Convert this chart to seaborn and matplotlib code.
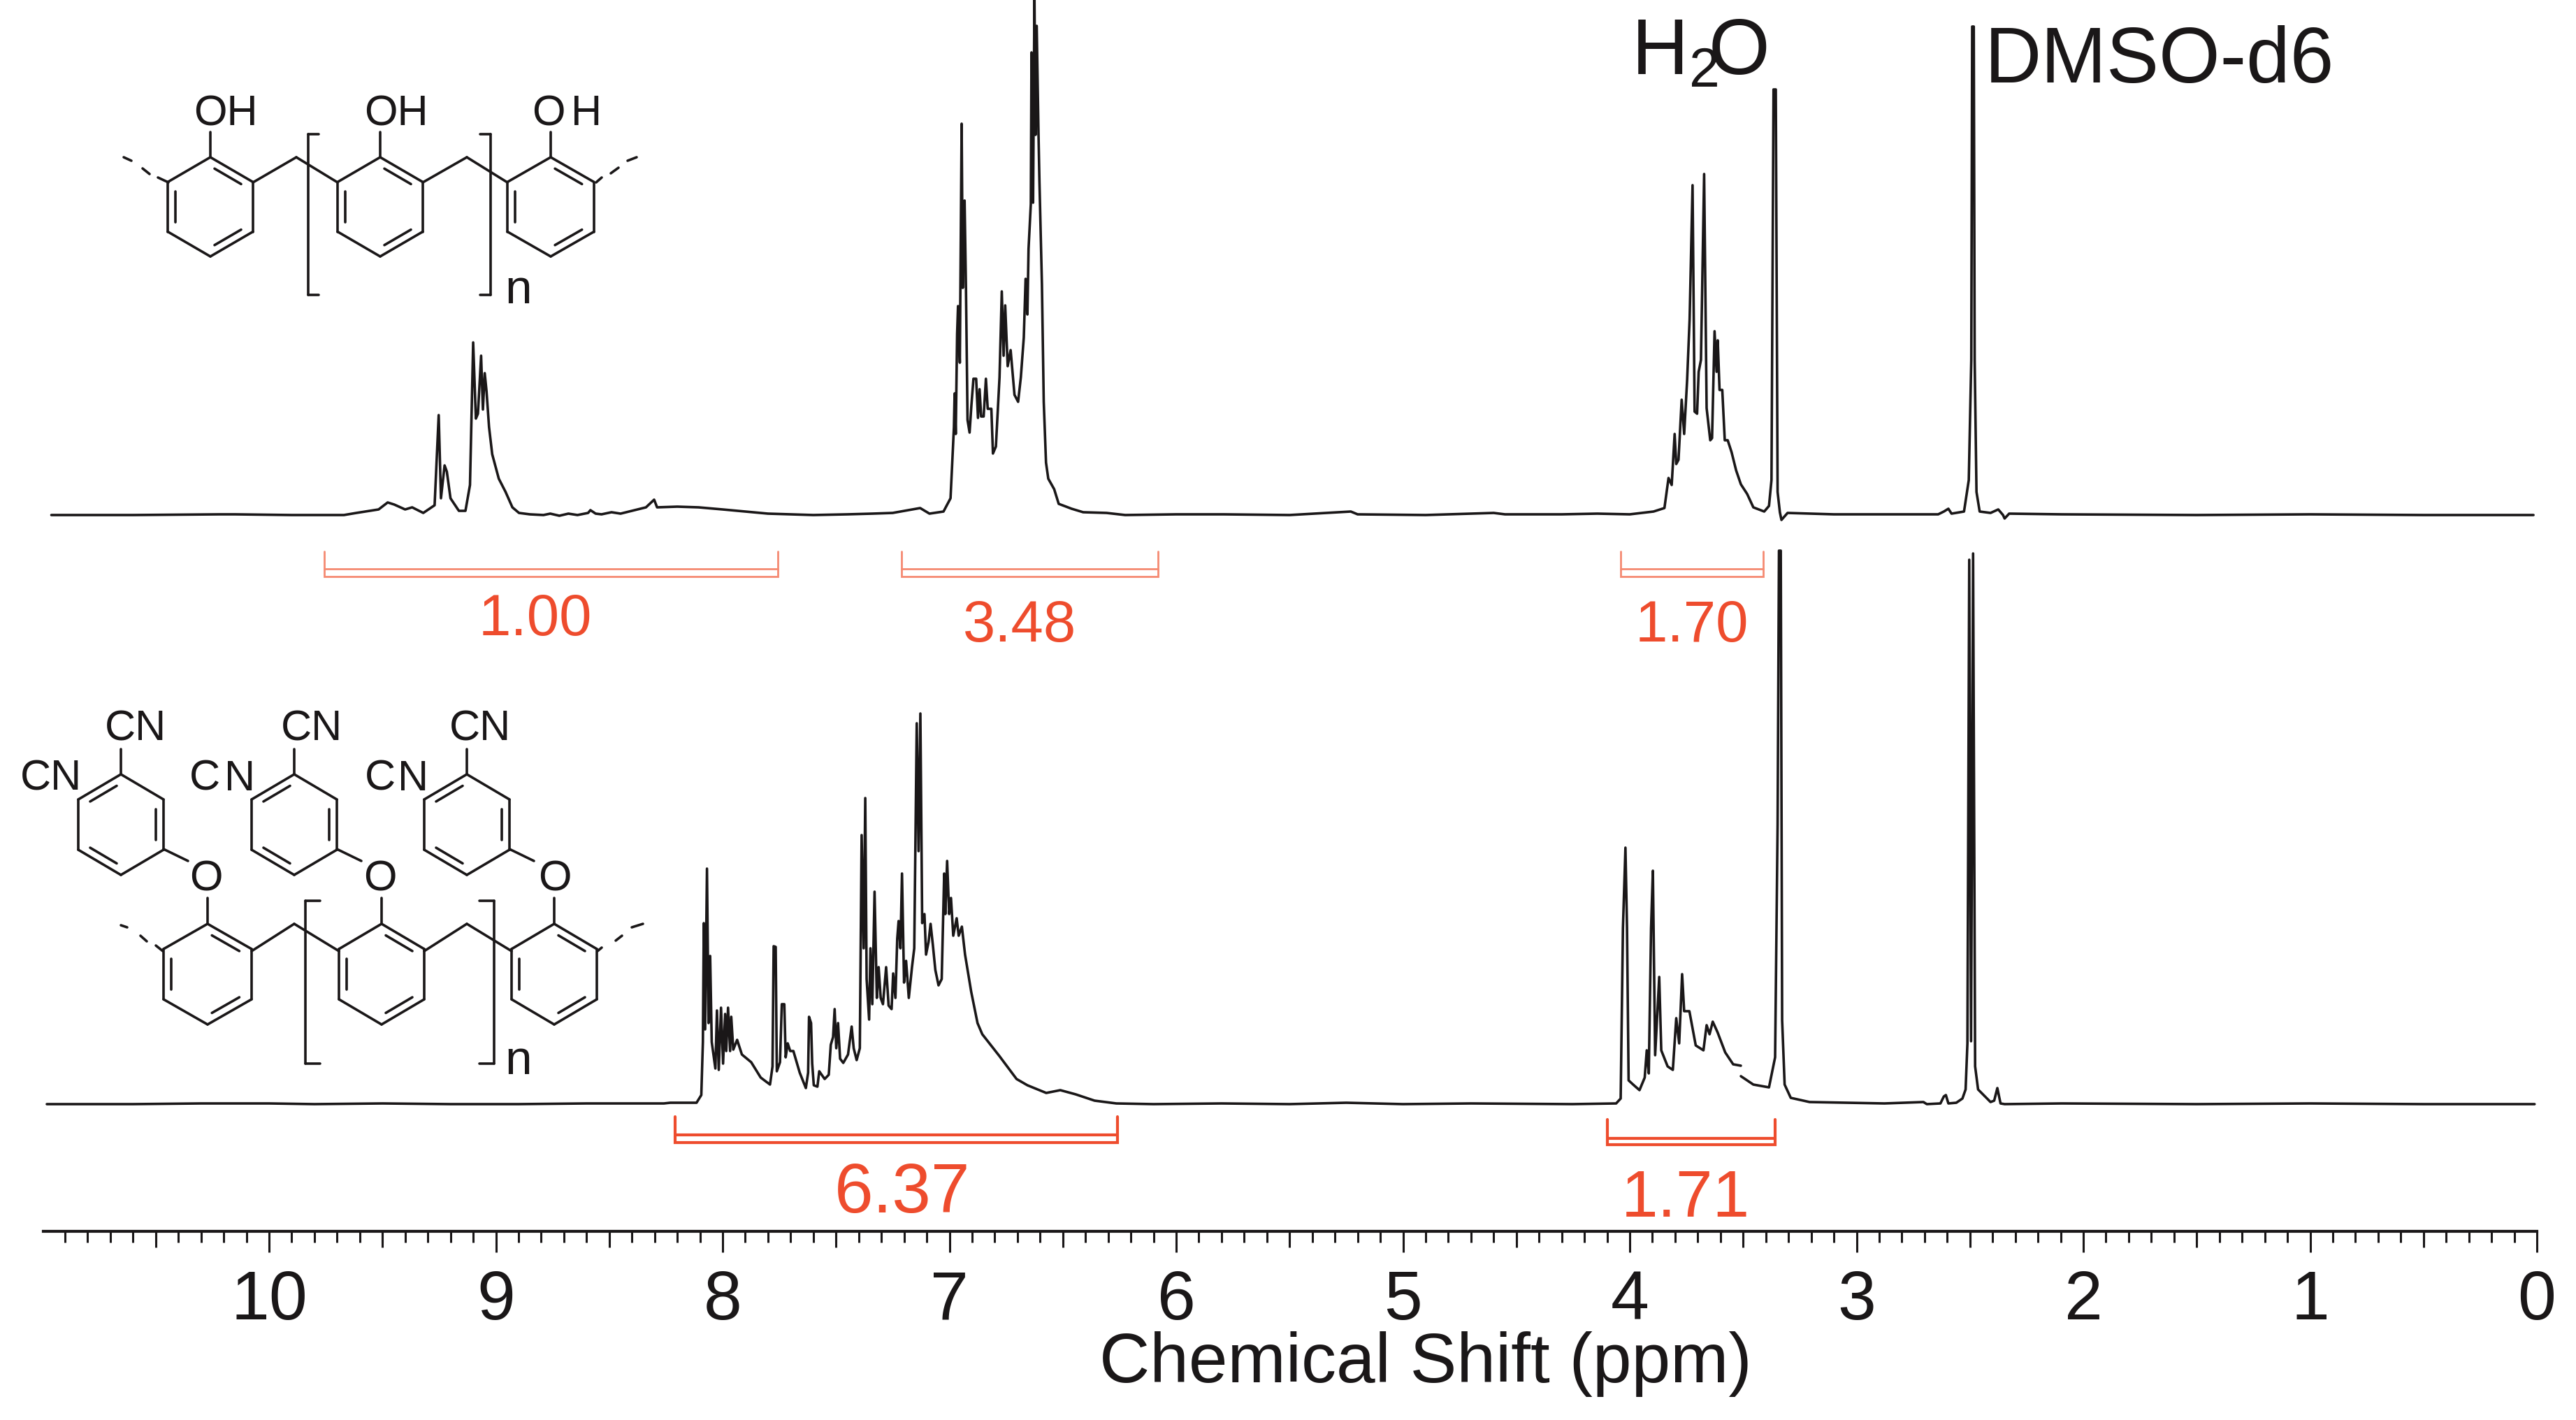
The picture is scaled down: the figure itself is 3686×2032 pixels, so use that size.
#%%
# =====================================================
# 1H NMR OF NOVOLAC AND PHTHALONITRILE RESIN (DMSO-d6)
# =====================================================

import pandas as pd
import matplotlib
matplotlib.use('Agg')
import matplotlib.pyplot as plt
from matplotlib.ticker import MultipleLocator
import seaborn as sns

sns.set_theme(style='ticks')
plt.rcParams['font.family'] = ['Liberation Sans', 'DejaVu Sans']
plt.rcParams['mathtext.fontset'] = 'custom'
plt.rcParams['mathtext.rm'] = 'Liberation Sans'
plt.rcParams['mathtext.default'] = 'rm'

# =====================================================
# DATA
# =====================================================
# upper spectrum, intensity is height above its own baseline
top_ppm = [
    10.96, 10.6, 10.22, 10.15, 9.9, 9.67, 9.615, 9.517, 9.477, 9.448, 9.40, 9.369, 9.32, 9.27,
    9.252, 9.242, 9.226, 9.216, 9.20, 9.163, 9.134, 9.114, 9.10, 9.088, 9.079, 9.065, 9.057,
    9.049, 9.041, 9.03, 9.016, 8.987, 8.957, 8.927, 8.898, 8.85, 8.79, 8.76, 8.72, 8.68, 8.64,
    8.593, 8.583, 8.56, 8.534, 8.49, 8.45, 8.40, 8.338, 8.302, 8.289, 8.2, 8.106, 8.0, 7.9, 7.8,
    7.7, 7.6, 7.45, 7.34, 7.25,
    7.129, 7.088, 7.026, 6.995, 6.98, 6.977, 6.972, 6.966, 6.962, 6.954, 6.946, 6.941, 6.933,
    6.927, 6.92, 6.911, 6.903, 6.894, 6.882, 6.874, 6.867, 6.86, 6.849, 6.839, 6.831, 6.815,
    6.808, 6.795, 6.779, 6.769, 6.761, 6.754, 6.743, 6.73, 6.713, 6.697, 6.685, 6.672, 6.664,
    6.656, 6.651, 6.641, 6.638, 6.631, 6.625, 6.62, 6.615, 6.607, 6.603, 6.592, 6.584, 6.574,
    6.564, 6.538, 6.518, 6.461, 6.41, 6.307, 6.225, 6.0, 5.79, 5.5, 5.23, 5.2, 4.9, 4.6, 4.55, 4.3,
    4.143, 4.0, 3.895, 3.847, 3.829, 3.815, 3.802, 3.795, 3.785, 3.771, 3.76, 3.747, 3.736,
    3.723, 3.714, 3.703, 3.696, 3.686, 3.672, 3.661, 3.645, 3.637, 3.626, 3.617, 3.612, 3.604,
    3.592, 3.581, 3.568, 3.551, 3.531, 3.51, 3.482, 3.455, 3.407, 3.386, 3.375, 3.366, 3.356,
    3.348, 3.338, 3.331, 3.304, 3.1, 2.877, 2.7, 2.64, 2.615, 2.595, 2.581, 2.526, 2.505, 2.494, 2.49,
    2.483, 2.479, 2.471, 2.457, 2.409, 2.375, 2.354, 2.347, 2.327, 2.095, 1.5, 1.0, 0.5, 0.015,
]
top_intensity = [
    0, 0, 1, 1, 0, 0, 3, 8, 18, 15, 8, 11, 3, 14,
    143, 24, 71, 62, 24, 6, 6, 43, 247, 138, 145, 228, 151,
    203, 177, 126, 87, 52, 33, 11, 3, 1, 0, 2, -1, 2, 0,
    3, 7, 2, 1, 4, 2, 6, 11, 22, 11, 12, 11, 8, 5, 2,
    1, 0, 1, 2, 3,
    10, 2, 5, 24, 126, 174, 116, 259, 299, 218, 560, 325, 450,
    325, 136, 118, 157, 195, 195, 139, 180, 141, 141, 195, 152, 152,
    88, 98, 197, 320, 228, 300, 213, 236, 172, 162, 197, 254, 338,
    287, 381, 445, 662, 447, 745, 544, 700, 544, 478, 330, 162, 75,
    52, 37, 16, 9, 4, 3, 0, 1, 1, 0, 5, 1, 0, 3, 1, 1,
    2, 1, 5, 10, 53, 43, 116, 73, 79, 165, 116, 193, 280,
    472, 148, 145, 205, 222, 488, 153, 107, 110, 263, 205, 250, 179,
    179, 107, 107, 90, 64, 44, 30, 11, 5, 13, 50, 609, 609,
    33, 4, -7, 3, 1, 1, 1, 1, 5, 9, 2, 5, 50, 222, 699,
    699, 222, 33, 5, 3, 8, 0, -5, 2, 1, 0, 1, 0, 0,
]

# lower spectrum, the trace has a small break near 3.5 ppm
bottom_ppm_a = [
    10.98, 10.6, 10.3, 10.0, 9.8, 9.5, 9.2, 8.9, 8.6, 8.4, 8.259, 8.231, 8.115, 8.094, 8.087,
    8.083, 8.077, 8.069, 8.062, 8.055, 8.048, 8.032, 8.025, 8.017, 8.007, 7.998, 7.989, 7.984,
    7.976, 7.967, 7.962, 7.953, 7.936, 7.915, 7.874, 7.832, 7.791, 7.78, 7.775, 7.766, 7.761,
    7.747, 7.739, 7.728, 7.722, 7.713, 7.702, 7.688, 7.66, 7.633, 7.623, 7.619, 7.61, 7.605,
    7.598, 7.582, 7.574, 7.55, 7.532, 7.523, 7.513, 7.506, 7.499, 7.491, 7.482, 7.468, 7.447,
    7.431, 7.422, 7.409, 7.395, 7.387, 7.378, 7.371, 7.365, 7.354, 7.348, 7.34, 7.33, 7.32,
    7.312, 7.303, 7.293, 7.279, 7.268, 7.255, 7.248, 7.238, 7.23, 7.224, 7.216, 7.209, 7.2,
    7.191, 7.179, 7.165, 7.155, 7.144, 7.136, 7.128, 7.12, 7.11, 7.103, 7.092, 7.083, 7.073,
    7.062, 7.048, 7.034, 7.023, 7.018, 7.01, 7.001, 6.993, 6.983, 6.968, 6.959, 6.945, 6.931,
    6.904, 6.876, 6.855, 6.78, 6.704, 6.656, 6.573, 6.511, 6.443, 6.36, 6.264, 6.1, 5.8, 5.5,
    5.25, 5.0, 4.7, 4.253, 4.06, 4.04, 4.03, 4.019, 4.012, 4.005, 3.985, 3.957, 3.934, 3.925,
    3.916, 3.906, 3.898, 3.888, 3.87, 3.861, 3.833, 3.81, 3.795, 3.782, 3.769, 3.76, 3.737,
    3.709, 3.675, 3.661, 3.648, 3.634, 3.613, 3.579, 3.544, 3.51,
]
bottom_intensity_a = [
    0, 0, 1, 1, 0, 1, 0, 0, 1, 1, 1, 2, 2, 13, 89,
    259, 107, 337, 116, 212, 89, 51, 134, 49, 138, 58, 129, 76,
    138, 76, 125, 78, 92, 71, 60, 38, 28, 54, 226, 225, 47,
    60, 143, 143, 67, 87, 76, 76, 45, 23, 45, 125, 116, 58,
    27, 25, 47, 36, 42, 85, 96, 136, 80, 116, 65, 59, 71,
    111, 80, 63, 80, 385, 223, 438, 179, 121, 223, 143, 304, 152,
    196, 152, 143, 196, 141, 136, 187, 152, 237, 262, 223, 330, 174,
    205, 152, 196, 223, 545, 362, 559, 259, 272, 214, 232, 258, 228,
    192, 170, 179, 330, 272, 348, 272, 295, 241, 266, 241, 254, 214,
    161, 116, 100, 69, 36, 27, 16, 20, 14, 5, 1, 0, 1, 0,
    2, 0, 1, 0, 1, 8, 252, 367, 252, 34, 28, 20, 38, 77,
    44, 252, 334, 70, 182, 77, 54, 49, 123, 87, 186, 133, 133,
    84, 77, 113, 100, 118, 103, 74, 57, 55,
]
bottom_ppm_b = [
    3.51, 3.455, 3.386, 3.359, 3.348, 3.342, 3.334, 3.328, 3.317, 3.29, 3.207, 2.877, 2.705,
    2.69, 2.63, 2.615, 2.606, 2.595, 2.56, 2.533, 2.519, 2.511, 2.503, 2.495, 2.486, 2.477, 2.464,
    2.409, 2.393, 2.379, 2.365, 2.347, 2.095, 1.5, 1.0, 0.5, 0.01,
]
bottom_intensity_b = [
    40, 28, 24, 67, 400, 792, 792, 120, 28, 9, 3, 1, 3,
    0, 1, 11, 13, 1, 2, 8, 21, 87, 779, 90, 788, 54, 21,
    3, 5, 23, 1, 0, 1, 0, 1, 0, 0,
]

# integrals: label, left and right limit in ppm
integral_labels = ['1.00', '3.48', '1.70', '6.37', '1.71']
integral_left = [9.757, 7.21, 4.04, 8.21, 4.10]
integral_right = [7.757, 6.08, 3.41, 6.26, 3.36]

x_tick_labels = ['10', '9', '8', '7', '6', '5', '4', '3', '2', '1', '0']
x_tick_values = [10, 9, 8, 7, 6, 5, 4, 3, 2, 1, 0]

# =====================================================
# LAYOUT (PIXELS OF THE 3686x2033 IMAGE)
# =====================================================
W, H = 3686, 2033
AXIS_Y = 1763
X0_PX, X1_PX = 62, 3630
TOP_BASE = AXIS_Y - 738
BOTTOM_BASE = AXIS_Y - 1581

BLACK = '#1a1718'
RED = '#ee4c2d'
RED_LIGHT = '#f58a72'
LINE_W = 2.6

fig = plt.figure(figsize=(W / 100, H / 100), dpi=100)
ax = fig.add_axes([X0_PX / W, (H - AXIS_Y) / H, (X1_PX - X0_PX) / W, AXIS_Y / H])
ax.patch.set_alpha(0)

# =====================================================
# SPECTRA
# =====================================================
top_df = pd.DataFrame({'ppm': top_ppm, 'y': [v + TOP_BASE for v in top_intensity]})
bottom_df = pd.concat([
    pd.DataFrame({'ppm': bottom_ppm_a, 'y': [v + BOTTOM_BASE for v in bottom_intensity_a], 'part': 0}),
    pd.DataFrame({'ppm': bottom_ppm_b, 'y': [v + BOTTOM_BASE for v in bottom_intensity_b], 'part': 1}),
], ignore_index=True)

sns.lineplot(ax=ax, data=top_df, x='ppm', y='y', estimator=None, sort=False, color=BLACK, lw=LINE_W)
sns.lineplot(ax=ax, data=bottom_df, x='ppm', y='y', units='part', estimator=None, sort=False,
             color=BLACK, lw=LINE_W)

# =====================================================
# AXIS
# =====================================================
ax.set_xlim((X1_PX - X0_PX) / 324.5, 0)
ax.set_ylim(0, AXIS_Y)
ax.set(xlabel='', ylabel='', yticks=[])
ax.set_xticks(x_tick_values, labels=x_tick_labels)
ax.xaxis.set_minor_locator(MultipleLocator(0.1))
ax.tick_params(axis='x', which='major', length=21.6, width=2.2, color=BLACK, labelcolor=BLACK,
               labelsize=71, pad=17)
ax.tick_params(axis='x', which='minor', length=11.5, width=2.2, color=BLACK)
sns.despine(ax=ax, left=True)
ax.spines['bottom'].set_linewidth(3.0)
ax.spines['bottom'].set_color(BLACK)

# half ppm ticks are a bit longer than the others
half_axis = ax.secondary_xaxis('bottom')
half_axis.set_xticks([v + 0.5 for v in range(0, 11)], labels=[])
half_axis.tick_params(axis='x', length=16.6, width=2.2, color=BLACK)
half_axis.spines['bottom'].set_visible(False)

# =====================================================
# OVERLAY IN IMAGE PIXELS: LABELS AND STRUCTURES
# =====================================================
art = fig.add_axes([0, 0, 1, 1], zorder=5)
art.set_xlim(0, W)
art.set_ylim(H, 0)
art.axis('off')


def ppm_to_px(ppm):
    return X1_PX - ppm * 324.5


def put_text(x, y, s, size, color=BLACK, ha='left'):
    art.text(x, y, s, fontsize=size, color=color, ha=ha, va='baseline')


def seg(x0, y0, x1, y1, lw=2.6):
    art.plot([x0, x1], [y0, y1], color=BLACK, lw=lw, solid_capstyle='round')


def ring(cx, cy, rx, ry, doubles):
    pts = [(cx, cy - ry), (cx + rx, cy - ry / 2), (cx + rx, cy + ry / 2),
           (cx, cy + ry), (cx - rx, cy + ry / 2), (cx - rx, cy - ry / 2)]
    for i in range(6):
        a, b = pts[i], pts[(i + 1) % 6]
        seg(a[0], a[1], b[0], b[1])
        if i in doubles:
            ax_, ay_ = cx + (a[0] - cx) * 0.82, cy + (a[1] - cy) * 0.82
            bx_, by_ = cx + (b[0] - cx) * 0.82, cy + (b[1] - cy) * 0.82
            seg(ax_ + (bx_ - ax_) * 0.12, ay_ + (by_ - ay_) * 0.12,
                bx_ - (bx_ - ax_) * 0.12, by_ - (by_ - ay_) * 0.12)
    return pts


def bracket(x0, x1, y0, y1, tick):
    seg(x0 + tick, y0, x0, y0)
    seg(x0, y0, x0, y1)
    seg(x0, y1, x0 + tick, y1)
    seg(x1 - tick, y0, x1, y0)
    seg(x1, y0, x1, y1)
    seg(x1, y1, x1 - tick, y1)


# integrals
integral_rows = [
    (790, 815, 826, 2.0, RED_LIGHT),
    (790, 815, 826, 2.0, RED_LIGHT),
    (790, 815, 826, 2.0, RED_LIGHT),
    (1599, 1625, 1636, 3.0, RED),
    (1603, 1630, 1639, 3.0, RED),
]
label_spots = [(766, 909, 60), (1459, 918, 60), (2421, 918, 60), (1291, 1735, 72), (2412, 1741, 68)]
for i, label in enumerate(integral_labels):
    y_top, y_mid, y_low, lw, col = integral_rows[i]
    x0, x1 = ppm_to_px(integral_left[i]), ppm_to_px(integral_right[i])
    art.plot([x0, x0, x1, x1], [y_top, y_low, y_low, y_top], color=col, lw=lw, solid_joinstyle='miter')
    art.plot([x0, x1], [y_mid, y_mid], color=col, lw=lw)
    lx, ly, size = label_spots[i]
    put_text(lx, ly, label, size, color=RED, ha='center')

# solvent labels and axis title
put_text(2334, 106, r'H$_{2}\!$O', 81)
put_text(2840, 118, 'DMSO-d6', 81)
put_text(2040, 1978, 'Chemical Shift (ppm)', 72, ha='center')

# novolac structure (upper)
for cx, rx in [(301, 61), (544, 61), (788, 62)]:
    ring(cx, 297, rx, 71, [0, 2, 4])
    seg(cx, 226, cx, 190)
seg(362, 262, 424, 226)
seg(424, 226, 483, 262)
seg(605, 262, 668, 226)
seg(668, 226, 726, 262)
for x0, y0, x1, y1 in [(177, 226, 188, 231), (204, 242, 214, 250), (226, 255, 241, 262),
                       (853, 262, 861, 255), (874, 249, 885, 241), (898, 231, 911, 226)]:
    seg(x0, y0, x1, y1)
bracket(441, 702, 193, 423, 15)
put_text(277, 179, 'OH', 44)
put_text(521, 179, 'OH', 44)
put_text(761, 179, 'O', 44)
put_text(817, 179, 'H', 44)
put_text(722, 434, 'n', 50)

# phthalonitrile structure (lower)
for cx, rx in [(297, 63), (546, 61), (793, 61)]:
    ring(cx, 1395, rx, 72, [0, 2, 4])
    seg(cx, 1323, cx, 1286)
seg(360, 1362, 421, 1323)
seg(421, 1323, 485, 1362)
seg(607, 1362, 668, 1323)
seg(668, 1323, 732, 1362)
for cx in [173, 421, 668]:
    ring(cx, 1181, 61, 72, [1, 3, 5])
    seg(cx, 1109, cx, 1073)
    seg(cx + 61, 1216, cx + 96, 1233)
for x0, y0, x1, y1 in [(173, 1325, 182, 1328), (201, 1340, 210, 1348), (223, 1354, 233, 1362),
                       (855, 1362, 861, 1357), (881, 1347, 890, 1340), (904, 1328, 920, 1323)]:
    seg(x0, y0, x1, y1)
bracket(437, 707, 1290, 1523, 21)
for x in [271, 520, 770]:
    put_text(x, 1275, 'O', 44)
for x in [150, 402, 643]:
    put_text(x, 1060, 'CN', 44)
put_text(29, 1131, 'CN', 44)
put_text(271, 1131, 'C', 44)
put_text(321, 1131, 'N', 44)
put_text(522, 1131, 'C', 44)
put_text(569, 1131, 'N', 44)
put_text(722, 1537, 'n', 50)

fig.savefig('out.png', dpi=100)
plt.close()
#%%
